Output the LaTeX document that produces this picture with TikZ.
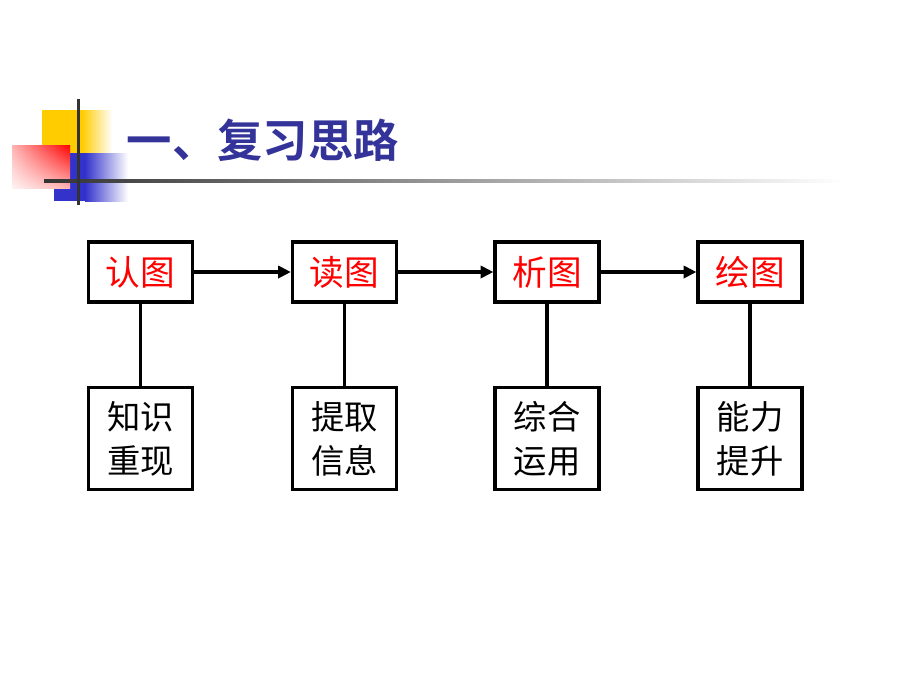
\documentclass[tikz,border=0pt]{standalone}
\usepackage{fontspec}
\newfontfamily\cjk{Noto Sans CJK SC}
\newfontfamily\cjkbold{Noto Sans CJK SC Bold}
\usepackage{tikz}
\usetikzlibrary{arrows.meta}
\usetikzlibrary{shadings}

\definecolor{titleblue}{RGB}{51,51,153}
\definecolor{decoyellow}{RGB}{255,204,0}
\definecolor{decoblue}{RGB}{51,51,204}
\definecolor{decogray}{RGB}{51,51,51}

\begin{document}
\begin{tikzpicture}[line cap=butt,line join=miter,>={Triangle[length=9.5pt,width=9pt]},x=0.75pt,y=-0.75pt,
    step box/.style={draw, line width=2.4pt, minimum width=78pt, minimum height=45pt, inner sep=0pt, text=red, font=\cjk\fontsize{26}{30}\selectfont},
    goal box/.style={draw, line width=2.4pt, minimum width=78pt, minimum height=77pt, inner sep=0pt, align=center, font=\cjk\fontsize{25}{33}\selectfont},
    link/.style={line width=2.4pt}]
    \useasboundingbox (0,0) rectangle (920,690);

    % title decoration
    \fill[decoyellow] (42,110) rectangle (82,153);
    \shade[left color=decoyellow, right color=white] (82,110) rectangle (112,153);
    \fill[decoblue] (54,153) rectangle (85,201);
    \shade[left color=decoblue, right color=white] (85,153) rectangle (128,201);
    \shade[upper right=red, upper left=red!30!white, lower right=red!30!white, lower left=red!5!white] (12,145) rectangle (70,188);
    \shade[left color=decogray, right color=white] (44,179.5) rectangle (845,182.5);
    \fill[decogray] (76.5,99) rectangle (79.5,205);

    \node[anchor=west, text=titleblue, font=\cjkbold\fontsize{34}{40}\selectfont] (title) at (122,140) {一、复习思路};

    % steps
    \node[step box] (s1) at (140.5,272) {认图};
    \node[step box] (s2) at (344.5,272) {读图};
    \node[step box] (s3) at (547,272) {析图};
    \node[step box] (s4) at (750,272) {绘图};

    \node[goal box] (g1) at (140.5,438.5) {知识\\重现};
    \node[goal box] (g2) at (344.5,438.5) {提取\\信息};
    \node[goal box] (g3) at (547,438.5) {综合\\运用};
    \node[goal box] (g4) at (750,438.5) {能力\\提升};

    \draw[link,->] (s1) -- (s2);
    \draw[link,->] (s2) -- (s3);
    \draw[link,->] (s3) -- (s4);

    \draw[link] (s1) -- (g1);
    \draw[link] (s2) -- (g2);
    \draw[link] (s3) -- (g3);
    \draw[link] (s4) -- (g4);
\end{tikzpicture}
\end{document}
